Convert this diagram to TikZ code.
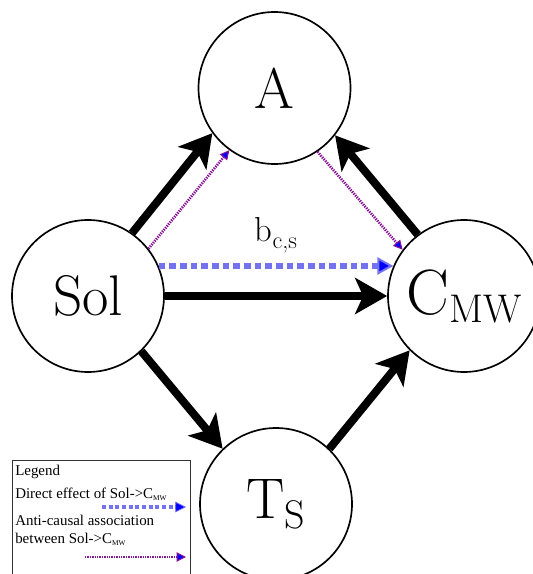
\documentclass[tikz,border=0pt]{standalone}
\usepackage{fontspec}
\newfontfamily\legfont{Liberation Serif}
\usetikzlibrary{arrows.meta, positioning, calc}
\definecolor{dagpurple}{RGB}{135,20,150}
\definecolor{daglblue}{RGB}{115,115,240}
\definecolor{dagblue}{RGB}{0,0,255}

\begin{document}
\begin{tikzpicture}[
  x=0.75pt, y=-0.75pt,
  var/.style={circle, draw=black, line width=1.25pt, fill=white,
    minimum size=114pt, inner sep=0pt,
    font=\rmfamily\fontsize{43}{45}\selectfont},
  arr/.style={-{Stealth[length=24pt, width=27pt, inset=6pt]}, line width=6pt, black},
  arrp/.style={-{Triangle[length=7pt, width=7pt, fill=dagblue, line width=0.8pt]},
    line width=2pt, dagpurple, dash pattern=on 1pt off 0.8pt},
  arrb/.style={-{Triangle[length=12pt, width=13pt, fill=dagblue, line width=1.5pt]},
    line width=4.5pt, daglblue, dash pattern=on 5pt off 3pt},
  arrbl/.style={-{Triangle[length=8pt, width=8pt, fill=dagblue, line width=0.6pt]},
    line width=3pt, daglblue, dash pattern=on 3pt off 2pt},
  legtext/.style={anchor=base west, inner sep=0pt, align=left,
    font=\legfont\fontsize{11.2}{14}\selectfont},
]
  \useasboundingbox (0,0) rectangle (532,574);

  % Variables
  \node[var] (sol) at (88,296) {Sol};
  \node[var] (a) at (274.5,88) {A};
  \node[var] (cmw) at (464,296) {{\fontsize{48}{50}\selectfont C}\raisebox{-6pt}{\fontsize{30}{32}\selectfont MW}};
  \node[var] (ts) at (276,504) {T\raisebox{-7.5pt}{\fontsize{30}{32}\selectfont S}};

  % Causal arrows
  \draw[arr] (sol.55) -- (a.216);
  \draw[arr] (cmw.127) -- (a.322);
  \draw[arr] (sol.0) -- (cmw.180);
  \draw[arr] (sol.314) -- (ts.134);
  \draw[arr] (ts.46) -- (cmw.225);

  % Anti-causal association
  \draw[arrp] (sol.38) -- (a.234);
  \draw[arrp] (a.304) -- (cmw.143);

  % Direct effect
  \draw[arrb] (sol.23) -- node[above=4pt, text=black, font=\rmfamily\fontsize{26}{28}\selectfont]
    (bcs) {b\raisebox{-5pt}{\fontsize{18}{20}\selectfont c,s}} (cmw.157);

  % Legend
  \node[draw=black!80, line width=0.6pt, fill=white, anchor=north west,
    minimum width=133.5pt, minimum height=150pt] (legend) at (12,460) {};
  \node[legtext] (leghead) at (15,475) {Legend};
  \node[legtext] (legdirect) at (15,498)
    {Direct effect of Sol->C\raisebox{-1.5pt}{\fontsize{5.5}{6}\selectfont MW}};
  \node[legtext] (leganti) at (15,525) {Anti-causal association};
  \node[legtext] (legbetween) at (15,543)
    {between Sol->C\raisebox{-1.5pt}{\fontsize{5.5}{6}\selectfont MW}};
  \coordinate (lb1) at (102,507);
  \coordinate (lb2) at (186,507);
  \coordinate (lp1) at (85,557);
  \coordinate (lp2) at (186,557);
  \draw[arrbl] (lb1) -- (lb2);
  \draw[arrp] (lp1) -- (lp2);
\end{tikzpicture}
\end{document}
